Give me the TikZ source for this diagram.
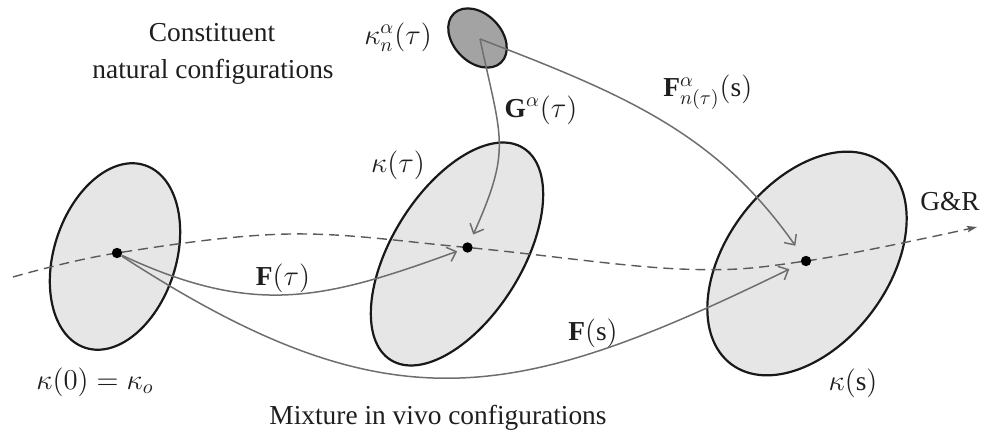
\documentclass[tikz,border=0pt]{standalone}
\usepackage{fontspec}
\setmainfont{Liberation Serif}
\usetikzlibrary{arrows.meta,shapes.geometric}
\definecolor{lightfill}{HTML}{E6E6E6}
\definecolor{darkfill}{HTML}{A3A3A3}
\definecolor{conngray}{HTML}{6E6E6E}
\definecolor{dashgray}{HTML}{5A5A5A}
\definecolor{txt}{HTML}{1E1E1E}
\begin{document}
\begin{tikzpicture}[x=0.5pt,y=0.5pt,
  region/.style={ellipse, draw=black!90, line width=1.1pt, fill=lightfill, inner sep=0pt},
  smallregion/.style={region, fill=darkfill},
  conn/.style={draw=conngray, line width=0.75pt, -{Straight Barb[length=4pt,width=7.5pt,line width=0.75pt]}},
  gr/.style={draw=dashgray, line width=0.7pt, dash pattern=on 5pt off 3pt, -{Stealth[length=5pt,width=3.2pt,inset=1pt]}},
  dotnode/.style={circle, fill=black, inner sep=0pt, minimum size=5.2pt},
  lbl/.style={text=txt, inner sep=0pt, font=\fontsize{13.7pt}{16pt}\selectfont}]
\useasboundingbox (0,0) rectangle (990,439);
% regions
\node[region, minimum width=61pt, minimum height=96pt, rotate=-18] (E0) at (115,182.5) {};
\node[region, minimum width=65pt, minimum height=125pt, rotate=-32] (E1) at (457,185) {};
\node[region, minimum width=81pt, minimum height=126pt, rotate=-37] (E2) at (807,175.5) {};
\node[smallregion, minimum width=24pt, minimum height=34pt, rotate=44] (Es) at (477.5,401) {};
% points
\coordinate (g0) at (13,162);
\coordinate (p1) at (290,205);
\coordinate (p2) at (680,170);
\coordinate (g1) at (977,212);
\coordinate (ds) at (480,400);
\coordinate (c0) at (117,186);
\coordinate (c1) at (467.5,191.5);
\coordinate (c2) at (806,178);
% growth and remodeling path
\draw[gr] plot[smooth, tension=0.6] coordinates {(g0) (c0) (p1) (c1) (p2) (c2) (g1)};
% dots
\node[dotnode] (d0) at (c0) {};
\node[dotnode] (d1) at (c1) {};
\node[dotnode] (d2) at (c2) {};
% connectors
\draw[conn, shorten >=2.7pt] (d0) to[out=-25, in=200, looseness=1.1] (d1);
\draw[conn, shorten >=6.5pt] (d0) to[out=-33, in=206, looseness=1.2] (d2);
\draw[conn, shorten >=4.3pt] (ds) to[out=-78, in=66, looseness=1.3] (d1);
\draw[conn, shorten >=6.5pt] (ds) to[out=-21, in=125] (d2);
% labels
\node[lbl] (t1) at (212,406) {Constituent};
\node[lbl] (t2) at (213,367) {natural configurations};
\node[lbl] (kn) at (398,402) {$\kappa_n^{\alpha}(\tau)$};
\node[lbl] (Ga) at (541,329) {$\mathbf{G}^{\alpha}(\tau)$};
\node[lbl, anchor=base west] (Fa) at (663,342) {$\mathbf{F}^{\alpha}_{n(\tau)}(\mathrm{s})$};
\node[lbl] (kt) at (398,274) {$\kappa(\tau)$};
\node[lbl] (Ft) at (283,161) {$\mathbf{F}(\tau)$};
\node[lbl] (Fs) at (593,106) {$\mathbf{F}(\mathrm{s})$};
\node[lbl] (k0) at (95,57) {$\kappa(0)=\kappa_o$};
\node[lbl] (ks) at (853,56) {$\kappa(\mathrm{s})$};
\node[lbl] (GR) at (950,237) {G\&R};
\node[lbl] (mx) at (438,21) {Mixture in vivo configurations};
\end{tikzpicture}
\end{document}
